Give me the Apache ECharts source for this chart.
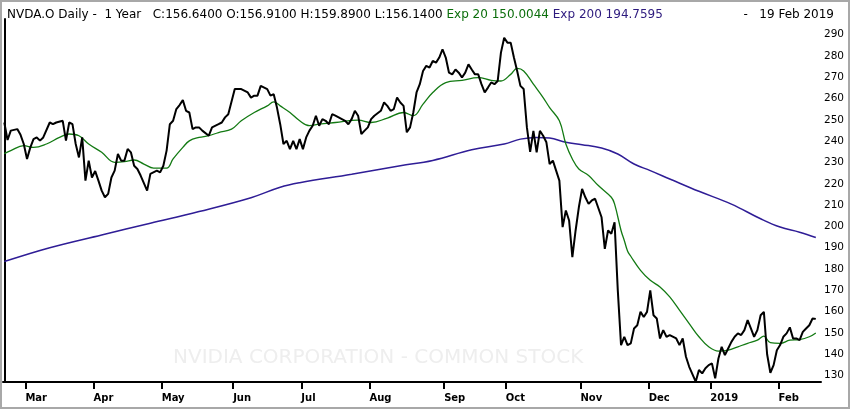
<!DOCTYPE html>
<html>
<head>
<meta charset="utf-8">
<script src="https://cdn.jsdelivr.net/npm/echarts@6/dist/echarts.min.js"></script>
<style>
html,body{margin:0;padding:0;background:#fff;}
#chart{width:850px;height:409px;}
</style>
</head>
<body>
<div id="chart"></div>
<script>
// ---- data (x = trading-day index from 20 Feb 2018) ----
const monthTicks = [6.5, 27.5, 48.5, 70.5, 91.5, 112.5, 135.5, 154.5, 177.5, 198.5, 217.5, 238.5];
const monthNames = ['Mar','Apr','May','Jun','Jul','Aug','Sep','Oct','Nov','Dec','2019','Feb'];
const priceTicks = [130,140,150,160,170,180,190,200,210,220,230,240,250,260,270,280,290];

const closeSeries = [
 [0,248.8],[1,240.6],[2,245],[4,245.7],[5,243],[6,238.7],[7,231.7],[8,237],[9,241],[10,241.8],
 [11,240.3],[12,241.8],[14,248.8],[15,248],[16,248.8],[18,249.6],[19,240.3],[20,248.8],[21,248],
 [22,238.7],[23,232.4],[24,241.8],[25,221.5],[26,230.9],[27,223],[28,226],[29,221.5],[30,216.8],
 [31,213.7],[32,215.3],[33,223],[34,226.2],[35,234],[36,230.9],[37,230.9],[38,236.4],[39,234.8],
 [40,228.5],[41,227],[42,223.9],[44,216.8],[45,224.7],[47,226.2],[48,225.4],[49,228.5],[50,235.6],
 [51,248],[52,249.6],[53,255.1],[54,257],[55,259.3],[56,254.3],[57,253.5],[58,245.7],[59,246.5],
 [60,246.5],[61,245],[63,242.6],[64,246.5],[66,248],[67,248.8],[68,251.2],[69,252.7],[71,264.5],
 [73,264.5],[75,262.9],[76,260.5],[77,261.4],[78,261.4],[79,266],[81,264.5],[82,261.4],[83,262.1],
 [84,255.8],[85,248],[86,238.7],[87,240.2],[88,236.3],[89,240.2],[90,236.3],[91,241],[92,236.3],
 [93,241.8],[94,245],[95,247.3],[96,252],[97,247.3],[98,250.4],[99,249.6],[100,248],[101,252.7],
 [102,252],[103,251.2],[104,250.4],[105,249.6],[106,248],[107,250.4],[108,254.3],[109,252],
 [110,243.4],[111,245],[112,246.5],[113,250.4],[114,252],[116,254.3],[117,258.2],[118,256.6],
 [119,254.3],[120,255.1],[121,260.5],[122,258.2],[123,256.6],[124,244.2],[125,246.5],[126,253.5],
 [127,262.9],[128,266.8],[129,273],[130,275.4],[131,274.6],[132,277.7],[133,276.9],[134,279.3],
 [135,283.2],[136,279.3],[137,272.2],[138,271.4],[139,273.7],[140,272.2],[141,269.9],[142,272.2],
 [143,276.1],[144,273.7],[145,271.4],[146,271.4],[147,266.8],[148,262.9],[149,265.2],[150,267.6],
 [151,266.8],[152,268.3],[153,281.6],[154,288.6],[155,286.3],[156,286.3],[157,279.3],[158,273],
 [159,266],[160,264.5],[161,246.5],[162,235],[163,244.9],[164,234.8],[165,244.9],[166,242.6],
 [167,239.5],[168,229.3],[169,230.9],[170,226.2],[171,221.5],[172,199.7],[173,207.5],[174,202.8],
 [175,185.6],[176,198.1],[177,209],[178,217.6],[179,213.7],[180,210.6],[181,212.2],[182,213],
 [184,204.3],[185,189.5],[186,198.1],[187,196.6],[188,202],[189,170],[190,144.3],[191,148.2],
 [192,144.3],[193,145.1],[194,152.1],[195,153.6],[196,159.9],[197,157.5],[198,159.9],[199,170],
 [200,158.3],[201,156.8],[202,147.4],[203,151.3],[204,148.2],[205,149],[207,147.4],[208,144.3],
 [209,147.4],[210,138.8],[211,134.1],[213,127.1],[214,132.6],[215,131],[216,133.4],[217,134.9],
 [218,135.7],[219,128.7],[220,138],[221,143.5],[222,139.6],[223,142.7],[224,145.8],[225,148.2],
 [226,149.8],[227,149],[228,151.3],[229,156],[230,152.1],[231,148.2],[232,151.3],[233,158.3],
 [234,159.9],[235,140],[236,131.3],[237,134.9],[238,141.9],[239,144.3],[240,148.2],[241,149.8],
 [242,152.6],[243,147.4],[244,147.4],[245,146.6],[246,150.5],[247,152.1],[248,153.6],[249,156.8],
 [250,156.6]
];

const exp20Series = [
 [0,234.2],[2,235.6],[6,237.9],[9,237.1],[13,238.7],[17,241.8],[20,243.4],[23,242.6],[26,238.7],
 [30,234.8],[34,230.1],[37,230.4],[40,231.2],[43,229.3],[46,227.4],[50,227.4],[52,231.7],[55,237.1],
 [57,240.2],[60,241.8],[63,242.6],[66,244.1],[70,245.7],[73,249.6],[77,253.5],[81,256.6],[83,258.5],
 [85,256.6],[88,253.5],[91,249.6],[94,247.3],[97,248],[102,248.8],[109,249.9],[113,248.8],[118,250.9],
 [123,253.5],[126,252],[129,257.4],[132,262.9],[136,267.5],[141,268.6],[146,269.9],[150,268.6],
 [153,268.3],[156,271.4],[158,274.2],[160,273],[163,266.8],[166,260.5],[168,255.8],[171,249.6],
 [173,238.7],[175,231.7],[177,227],[180,223.9],[183,219.2],[187,213.7],[188,210.6],[190,198.1],
 [191,193.4],[192,188.5],[193,186],[196,179.4],[199,174.7],[202,171.6],[205,166.9],[208,160.7],
 [211,154.4],[214,148.2],[217,143.5],[220,141.5],[223,141.9],[226,143.5],[229,145.1],[232,146.6],
 [234,148.5],[236,145.4],[239,145.1],[242,146.6],[245,146.9],[248,148.2],[250,150.0]
];

const exp200Series = [
 [0,183.5],[14,190],[30,196],[45,201.5],[60,207],[76,213.5],[85,218.4],[91,220.5],[107,224.5],
 [122,228.5],[132,231],[144,236],[154,238.7],[159,241],[164,241.8],[168,241.5],[173,239.5],
 [178,238.4],[184,236.8],[189,234],[194,229.3],[199,226.2],[205,222.3],[214,216.5],[224,210.5],
 [233,203.6],[239,199.7],[245,197.3],[250,194.8]
];

const headerMain = 'NVDA.O Daily -  1 Year   C:156.6400 O:156.9100 H:159.8900 L:156.1400';
const headerExp20 = 'Exp 20 150.0044';
const headerExp200 = 'Exp 200 194.7595';
const headerDate = '-   19 Feb 2019';
const watermark = 'NVIDIA CORPORATION - COMMON STOCK';

const FONT = 'DejaVu Sans, Verdana, sans-serif';
const chart = echarts.init(document.getElementById('chart'), null, {renderer: 'canvas'});
chart.setOption({
  animation: false,
  backgroundColor: '#ffffff',
  title: [
    {
      left: 2, top: 4,
      text: '{a|' + headerMain + '} {g|' + headerExp20 + '} {b|' + headerExp200 + '}',
      textStyle: {
        fontFamily: FONT, fontSize: 12, fontWeight: 'normal',
        rich: {
          a: {color: '#000000', fontFamily: FONT, fontSize: 12},
          g: {color: '#0b6e0b', fontFamily: FONT, fontSize: 12},
          b: {color: '#2d1a7e', fontFamily: FONT, fontSize: 12}
        }
      }
    },
    {
      right: 11, top: 4, text: headerDate,
      textStyle: {fontFamily: FONT, fontSize: 12, fontWeight: 'normal', color: '#000'}
    }
  ],
  graphic: [
    {
      type: 'text', left: 173, top: 348, z: 0, silent: true,
      style: {text: watermark, font: '20px ' + FONT, fill: '#eeeeee', x: 0, y: 0}
    },
    {
      type: 'rect', z: 100, silent: true,
      shape: {x: 1, y: 1, width: 848, height: 407},
      style: {fill: 'none', stroke: '#a8a8a8', lineWidth: 2}
    }
  ],
  grid: {left: 3, right: 29, top: 19, bottom: 27, containLabel: false},
  xAxis: {
    type: 'value', min: -0.4, max: 251.6,
    axisLine: {show: true, lineStyle: {color: '#000', width: 2}},
    axisTick: {show: true, customValues: monthTicks, length: 7, lineStyle: {color: '#000', width: 2}},
    axisLabel: {
      customValues: monthTicks, align: 'left', margin: 11,
      fontFamily: FONT, fontSize: 10, fontWeight: 'bold', color: '#000',
      formatter: function (v) { const i = monthTicks.indexOf(v); return i >= 0 ? monthNames[i] : ''; }
    },
    splitLine: {show: false}
  },
  yAxis: {
    type: 'value', position: 'right', min: 126.96, max: 297.4,
    axisLine: {show: true, lineStyle: {color: '#000', width: 2}},
    axisTick: {show: false},
    axisLabel: {customValues: priceTicks, margin: 3, fontFamily: FONT, fontSize: 10.5, color: '#000'},
    splitLine: {show: false}
  },
  series: [
    {name: 'Exp 200', type: 'line', data: exp200Series, showSymbol: false, symbol: 'none', smooth: 0.4,
     lineStyle: {color: '#2f1d96', width: 1.5}, z: 2},
    {name: 'Exp 20', type: 'line', data: exp20Series, showSymbol: false, symbol: 'none', smooth: 0.4,
     lineStyle: {color: '#137a13', width: 1.3}, z: 3},
    {name: 'NVDA.O', type: 'line', data: closeSeries, showSymbol: false, symbol: 'none',
     lineStyle: {color: '#000000', width: 2}, z: 4}
  ]
});
</script>
</body>
</html>
